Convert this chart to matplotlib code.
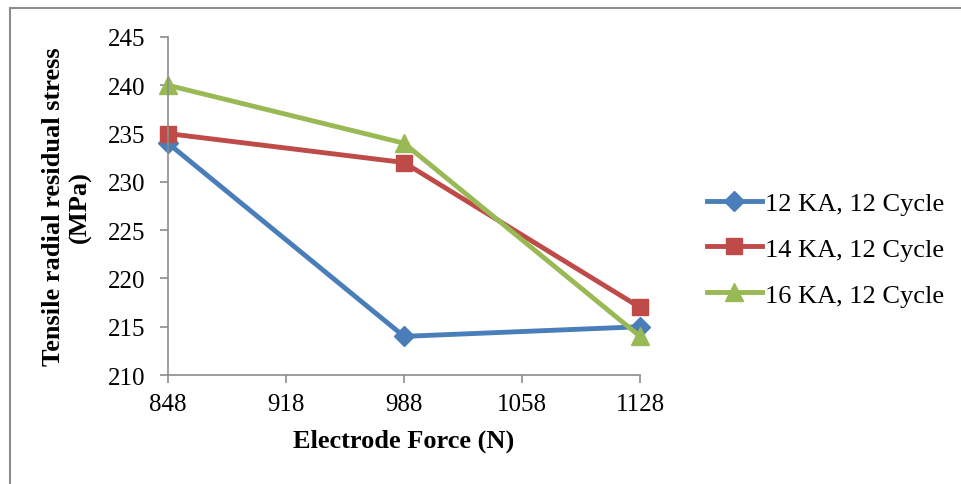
import matplotlib
matplotlib.use("Agg")
import matplotlib.pyplot as plt
from matplotlib.lines import Line2D

plt.rcParams["font.family"] = ["Liberation Serif", "DejaVu Serif"]

force = [848, 988, 1128]
xticks = [848, 918, 988, 1058, 1128]
stress_12ka = [234, 214, 215]
stress_14ka = [235, 232, 217]
stress_16ka = [240, 234, 214]
labels = ["12 KA, 12 Cycle", "14 KA, 12 Cycle", "16 KA, 12 Cycle"]

W, H = 961, 485
fig = plt.figure(figsize=(W / 100, H / 100), dpi=100)

# outer frame (top and left edges only are visible)
fig.add_artist(Line2D([10 / W, 10 / W], [0, 1 - 9 / H], color="#8c8c8c", lw=1.5,
                      transform=fig.transFigure))
fig.add_artist(Line2D([10 / W, 1], [1 - 9 / H, 1 - 9 / H], color="#8c8c8c", lw=1.5,
                      transform=fig.transFigure))

left, right = 168 / W, 640 / W
top, bottom = 1 - 38 / H, 1 - 376 / H
ax = fig.add_axes([left, bottom, right - left, top - bottom])

series = [
    (stress_12ka, "#4a7ebb", "D", 10),
    (stress_14ka, "#be4b48", "s", 12),
    (stress_16ka, "#98b954", "^", 13),
]
for (vals, color, marker, ms), lab in zip(series, labels):
    ax.plot(force, vals, color=color, lw=3.5, marker=marker, markersize=ms,
            markeredgecolor=color, label=lab, clip_on=False)

ax.set_xlim(848, 1128)
ax.set_ylim(210, 245)
ax.set_xticks(xticks)
ax.set_yticks(range(210, 246, 5))
for s in ["top", "right"]:
    ax.spines[s].set_visible(False)
for s in ["left", "bottom"]:
    ax.spines[s].set_color("#8c8c8c")
    ax.spines[s].set_linewidth(1.2)
ax.tick_params(axis="both", labelsize=18, color="#8c8c8c", length=6, width=1.2,
               direction="out", pad=7)
ax.tick_params(axis="y", pad=10)

ax.set_xlabel("Electrode Force (N)", fontsize=19, fontweight="bold", labelpad=10)
ax.set_ylabel("Tensile radial residual stress\n(MPa)", fontsize=19,
              fontweight="bold", labelpad=12, linespacing=1.2)

ax.legend(loc="center left", bbox_to_anchor=(683 / W, 1 - 250 / H),
          bbox_transform=fig.transFigure, frameon=False, fontsize=19,
          handlelength=2.1, handletextpad=0.1, labelspacing=0.85)

fig.savefig("out.png", dpi=100)
